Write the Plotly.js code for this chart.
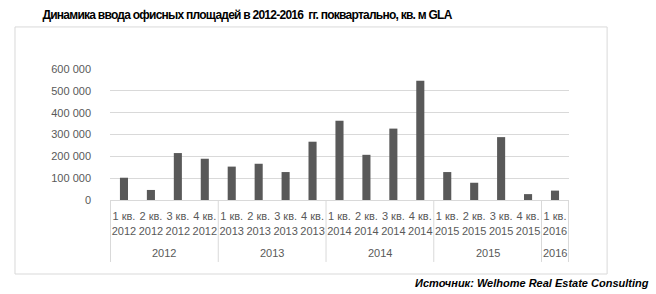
<!DOCTYPE html>
<html>
<head>
<meta charset="utf-8">
<script src="https://cdn.plot.ly/plotly-3.0.1.min.js"></script>
<style>
html,body{margin:0;padding:0;background:#fff;}
#chart{width:656px;height:294px;}
#chart .gtitle{letter-spacing:-0.75px;}
</style>
</head>
<body>
<div id="chart"></div>
<script>
const quarters = ["1 кв.","2 кв.","3 кв.","4 кв.","1 кв.","2 кв.","3 кв.","4 кв.","1 кв.","2 кв.","3 кв.","4 кв.","1 кв.","2 кв.","3 кв.","4 кв.","1 кв."];
const quarterYears = ["2012","2012","2012","2012","2013","2013","2013","2013","2014","2014","2014","2014","2015","2015","2015","2015","2016"];
const values = [102000, 46000, 215000, 189000, 153000, 166000, 128000, 267000, 363000, 207000, 327000, 546000, 128000, 79000, 288000, 27000, 43000];
const years = ["2012","2013","2014","2015","2016"];
const yTickVals = [0, 100000, 200000, 300000, 400000, 500000, 600000];
const yTickText = ["0","100 000","200 000","300 000","400 000","500 000","600 000"];
const titleText = "Динамика ввода офисных площадей в 2012-2016  гг. поквартально, кв. м GLA";
const sourceText = "Источник: Welhome Real Estate Consulting";

const cats = quarters.map((q, i) => q + "<br>" + quarterYears[i]);

const groups = years.map(y => {
  const idx = quarterYears.map((v, i) => v === y ? i : -1).filter(i => i >= 0);
  return {year: y, first: idx[0], last: idx[idx.length - 1]};
});

const shapes = [];
const bounds = [groups[0].first - 0.5].concat(groups.map(g => g.last + 0.5));
bounds.forEach(b => shapes.push({
  type: 'line', xref: 'x', yref: 'paper', x0: b, x1: b, y0: 0, y1: -0.473,
  line: {color: '#d9d9d9', width: 1}
}));
shapes.push({
  type: 'rect', xref: 'paper', yref: 'paper', x0: -0.207, x1: 1.083, y0: -0.565, y1: 1.321,
  line: {color: '#d9d9d9', width: 1}, fillcolor: 'rgba(0,0,0,0)'
});

const annotations = groups.map(g => ({
  xref: 'x', yref: 'paper', x: (g.first + g.last) / 2, y: -0.405,
  text: g.year, showarrow: false, xanchor: 'center', yanchor: 'middle',
  font: {family: 'Liberation Sans, Arial, sans-serif', size: 11, color: '#595959'}
}));
annotations.push({
  xref: 'paper', yref: 'paper', x: 1.178, y: -0.634, xanchor: 'right', yanchor: 'middle',
  text: '<b><i>' + sourceText + '</i></b>', showarrow: false,
  font: {family: 'Liberation Sans, Arial, sans-serif', size: 11, color: '#000'}
});

const data = [{
  type: 'bar', x: cats, y: values,
  marker: {color: '#595959'},
  hoverinfo: 'skip'
}];

const layout = {
  width: 656, height: 294,
  margin: {l: 110, r: 87, t: 69, b: 94, pad: 0},
  paper_bgcolor: '#fff', plot_bgcolor: '#fff',
  showlegend: false,
  bargap: 0.7,
  title: {
    text: '<b>' + titleText + '</b>',
    xref: 'container', yref: 'container', x: 247 / 656, xanchor: 'center',
    y: 1 - 15 / 294, yanchor: 'middle',
    font: {family: 'Liberation Sans, Arial, sans-serif', size: 12, color: '#000'}
  },
  xaxis: {
    type: 'category', tickangle: 0,
    showgrid: false, zeroline: false,
    showline: true, linecolor: '#d9d9d9', linewidth: 1,
    ticks: '', ticklabelstandoff: 6, fixedrange: true,
    tickfont: {family: 'Liberation Sans, Arial, sans-serif', size: 11, color: '#595959'}
  },
  yaxis: {
    range: [0, 600000], tickvals: yTickVals, ticktext: yTickText,
    showgrid: true, gridcolor: '#d9d9d9', gridwidth: 1,
    zeroline: false, showline: false, ticks: '', ticklabelstandoff: 18,
    fixedrange: true,
    tickfont: {family: 'Liberation Sans, Arial, sans-serif', size: 11, color: '#595959'}
  },
  shapes: shapes,
  annotations: annotations
};

Plotly.newPlot('chart', data, layout, {displayModeBar: false, staticPlot: true});
</script>
</body>
</html>
